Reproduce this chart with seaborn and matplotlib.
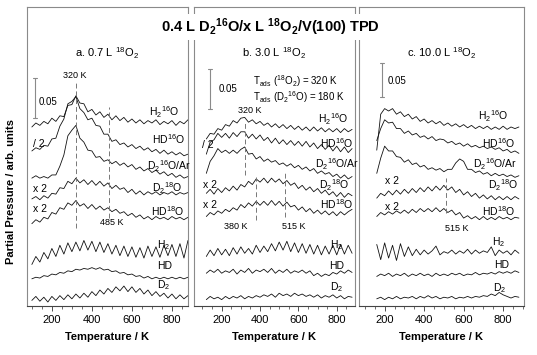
import numpy as np
import seaborn as sns
import matplotlib.pyplot as plt
from matplotlib.ticker import MultipleLocator

sns.set_theme(style="ticks")
plt.rcParams['font.family'] = ['Liberation Sans', 'DejaVu Sans']
plt.rcParams['mathtext.fontset'] = 'custom'
plt.rcParams['mathtext.rm'] = 'Liberation Sans'
plt.rcParams['mathtext.it'] = 'Liberation Sans:italic'
plt.rcParams['mathtext.bf'] = 'Liberation Sans:bold'
plt.rcParams['text.color'] = 'black'
plt.rcParams['axes.labelcolor'] = 'black'
plt.rcParams['xtick.labelcolor'] = 'black'

# temperature grids (K)
temp_a = np.arange(100, 881, 20)
temp_b = np.arange(120, 881, 20)
temp_c = np.arange(160, 881, 20)

# traces, stacked, in 1e-3 arb. units
a_h2o16 = [224,229,226,231,228,235,231,238,237,251, 252,263,254,253,243,246,239,243,236,240,
           233,238,232,236,230,234,229,233,228,232, 229,233,227,231,228,232,226,231,228,233]
a_hd16 = [194,198,196,201,200,209,210,225,234,253, 256,262,247,242,233,235,226,225,215,215,
          206,208,202,204,199,202,197,200,195,198, 193,196,191,195,190,193,189,192,188,190]
a_d2o16 = [160,163,160,162,160,164,164,175,189,213, 220,226,210,205,195,194,186,187,181,183,
           178,181,176,179,174,177,171,174,169,172, 167,170,165,168,163,166,161,164,160,162]
a_d2o18 = [134,137,133,138,135,141,140,148,147,156, 153,160,154,158,152,157,151,156,150,154,
           147,151,146,148,142,146,140,144,139,143, 140,143,139,142,140,143,139,142,140,142]
a_hdo18 = [103,108,105,111,109,117,115,123,121,129, 126,132,125,128,122,127,121,125,120,123,
           118,121,116,118,113,116,111,114,109,112, 108,112,109,111,108,112,109,111,108,111]
a_h2 = [52,62,55,67,59,72,62,76,65,79, 68,80,69,82,70,81,68,80,67,78,
        65,76,63,75,62,74,61,73,60,75, 62,74,61,76,63,77,62,78,60,82]
a_hd = [34,36,35,38,37,40,39,42,41,44, 43,46,45,47,46,48,46,48,45,46,
        43,44,41,42,39,40,37,38,35,37, 34,36,34,36,34,36,34,36,34,36]
a_d2 = [7,12,6,11,5,12,7,13,8,14, 9,15,10,16,11,18,13,20,15,22,
        17,24,19,25,18,24,17,22,15,20, 13,18,12,16,10,15,9,14,9,13]

b_h2o16 = [209,216,215,222,220,227,225,232,229,235, 236,230,233,228,231,226,229,224,228,223,
           227,222,226,221,225,220,224,219,224,219, 223,218,222,218,222,217,222,218,221]
b_hd16 = [190,205,208,216,211,216,210,217,212,218, 218,210,215,209,214,207,211,204,210,203,
          208,202,207,201,206,200,206,199,204,197, 202,196,201,194,200,193,199,192,197]
b_d2o16 = [166,181,188,197,192,195,191,195,191,196, 199,190,191,184,187,181,184,180,182,177,
           179,175,178,173,176,171,174,169,172,166, 169,165,167,162,165,160,164,159,162]
b_d2o18 = [141,146,140,147,142,148,144,150,145,152, 149,156,152,159,155,160,154,160,155,159,
           153,157,151,154,147,151,145,149,143,147, 141,145,139,143,137,142,136,141,138]
b_hdo18 = [112,117,114,119,116,121,118,123,120,127, 123,129,125,131,126,131,126,132,126,131,
           125,130,124,126,120,124,118,122,116,120, 115,119,114,118,113,118,114,118,121]
b_h2 = [62,70,63,72,64,71,63,73,65,74, 66,72,65,76,67,75,68,78,69,80,
        70,81,68,79,67,78,66,77,65,76, 64,75,65,76,64,77,65,76,66]
b_hd = [41,45,42,46,41,44,42,46,40,45, 42,47,41,45,43,46,42,47,41,45,
        42,46,41,44,42,45,41,44,38,41, 37,40,38,42,40,44,41,45,42]
b_d2 = [8,12,9,11,8,12,9,12,10,13, 9,12,10,13,11,14,12,15,11,16,
        13,15,12,16,13,15,12,14,11,14, 10,13,11,14,10,13,9,12,11]

c_h2o16 = [195,240,247,244,247,240,243,237,240,234, 237,231,234,229,232,228,231,226,229,225,
           228,224,227,223,226,222,225,222,225,221, 224,221,225,221,224,222,224]
c_hd16 = [207,222,233,229,230,222,222,216,219,214, 216,211,213,209,212,207,209,208,204,206,
          202,204,200,203,199,201,198,200,197,199, 196,198,194,196,192,194,191]
c_d2o16 = [166,185,200,194,194,187,186,180,183,177, 179,174,176,171,173,170,172,168,171,171,
           179,184,181,171,171,167,169,165,167,163, 166,163,165,162,164,161,163]
c_d2o18 = [135,141,138,144,139,145,140,146,141,147, 142,148,143,149,144,150,145,151,145,149,
           142,146,139,143,137,141,135,139,134,138, 133,137,133,137,133,137,134]
c_hdo18 = [112,117,114,118,115,119,116,120,116,121, 117,122,118,122,118,123,118,122,117,120,
           114,117,110,113,109,112,108,112,108,111, 108,112,109,111,108,111,110]
c_h2 = [77,58,79,60,76,57,78,62,74,63, 71,64,70,65,69,75,64,68,66,70,
        65,69,66,71,65,70,66,69,67,74, 63,70,66,69,64,70,66]
c_hd = [37,40,38,41,37,40,38,41,37,40, 38,41,38,40,37,41,38,40,38,41,
        39,41,38,40,39,42,39,41,40,42, 40,43,41,43,41,44,42]
c_d2 = [9,11,8,11,9,12,9,11,10,12, 9,12,10,13,10,12,9,11,10,12,
        9,11,10,12,10,12,11,13,12,15, 13,17,14,12,10,12,11]

names = ["H$_2$$^{16}$O", "HD$^{16}$O", "D$_2$$^{16}$O/Ar", "D$_2$$^{18}$O",
         "HD$^{18}$O", "H$_2$", "HD", "D$_2$"]

panels = [
    dict(temp=temp_a, xlim=(75, 880), rect=[0.050, 0.138, 0.300, 0.842],
         title="a. 0.7 L $^{18}$O$_2$",
         traces=[a_h2o16, a_hd16, a_d2o16, a_d2o18, a_hdo18, a_h2, a_hd, a_d2],
         lab_pos=[(762, 243), (785, 209), (782, 175), (775, 147), (780, 119),
                  (760, 76), (765, 50), (760, 26)],
         factors=[(135, 203, "/ 2"), (140, 147, "x 2"), (140, 121, "x 2")],
         bar=(115, 235, 285), bar_text=(132, 255),
         dashes=[(320, 97, 280), (485, 110, 249)],
         temps=[(312, 289, "320 K"), (500, 104, "485 K")]),
    dict(temp=temp_b, xlim=(55, 895), rect=[0.361, 0.138, 0.300, 0.842],
         title="b. 3.0 L $^{18}$O$_2$",
         traces=[b_h2o16, b_hd16, b_d2o16, b_d2o18, b_hdo18, b_h2, b_hd, b_d2],
         lab_pos=[(783, 234), (800, 204), (800, 178), (785, 151), (800, 128),
                  (800, 76), (800, 50), (800, 24)],
         factors=[(127, 202, "/ 2"), (138, 152, "x 2"), (138, 127, "x 2")],
         bar=(141, 247, 297), bar_text=(185, 271),
         dashes=[(320, 164, 229), (377, 107, 161), (528, 111, 166)],
         temps=[(346, 244, "320 K"), (273, 99, "380 K"), (575, 100, "515 K")]),
    dict(temp=temp_c, xlim=(70, 905), rect=[0.6685, 0.138, 0.307, 0.842],
         title="c. 10.0 L $^{18}$O$_2$",
         traces=[c_h2o16, c_hd16, c_d2o16, c_d2o18, c_hdo18, c_h2, c_hd, c_d2],
         lab_pos=[(750, 238), (776, 204), (760, 178), (800, 151), (776, 119),
                  (776, 80), (790, 51), (780, 22)],
         factors=[(235, 156, "x 2"), (235, 124, "x 2")],
         bar=(188, 262, 304), bar_text=(215, 281),
         dashes=[(513, 116, 160)],
         temps=[(564, 97, "515 K")]),
]

fig = plt.figure(figsize=(5.37, 3.55), dpi=100)
k = 1e-3
grey = "#8a8a8a"

for p in panels:
    ax = fig.add_axes(p["rect"])
    for vals in p["traces"]:
        sns.lineplot(x=p["temp"], y=np.array(vals) * k, ax=ax, color="#111111",
                     linewidth=0.6, estimator=None)
    for (tx, ty), name in zip(p["lab_pos"], names):
        ax.text(tx, ty * k, name, fontsize=7.5, ha="center", va="center")
    for tx, ty, s in p["factors"]:
        ax.text(tx, ty * k, s, fontsize=7.5, ha="center", va="center")
    bx, b0, b1 = p["bar"]
    ax.plot([bx, bx], [b0 * k, b1 * k], color=grey, lw=0.8)
    ax.plot([bx - 10, bx + 10], [b0 * k, b0 * k], color=grey, lw=0.8)
    ax.plot([bx - 10, bx + 10], [b1 * k, b1 * k], color=grey, lw=0.8)
    ax.text(p["bar_text"][0], p["bar_text"][1] * k, "0.05", fontsize=7,
            ha="left", va="center")
    for tx, d0, d1 in p["dashes"]:
        ax.plot([tx, tx], [d0 * k, d1 * k], color="#777777", lw=0.7,
                ls=(0, (5, 3)))
    for tx, ty, s in p["temps"]:
        ax.text(tx, ty * k, s, fontsize=6.5, ha="center", va="center")
    ax.text(0.5, 0.846, p["title"], transform=ax.transAxes, fontsize=8,
            ha="center", va="center")

    ax.set_xlim(*p["xlim"])
    ax.set_ylim(0, 0.374)
    ax.set_yticks([])
    ax.set_ylabel("")
    ax.xaxis.set_major_locator(MultipleLocator(200))
    ax.xaxis.set_minor_locator(MultipleLocator(50))
    ax.set_xticks([200, 400, 600, 800])
    ax.tick_params(axis="x", which="major", direction="out", length=3.5,
                   width=0.6, labelsize=8, pad=3, color="#333333")
    ax.tick_params(axis="x", which="minor", direction="out", length=2,
                   width=0.5, color="#333333")
    for s in ax.spines.values():
        s.set_color(grey)
        s.set_linewidth(0.8)
    ax.spines["bottom"].set_color("#444444")
    ax.set_xlabel("Temperature / K", fontsize=8, fontweight="bold", labelpad=5)

ax_b = fig.axes[1]
ax_b.text(361, 0.282, "T$_\\mathrm{ads}$ ($^{18}$O$_2$) = 320 K", fontsize=7,
          ha="left", va="center")
ax_b.text(361, 0.262, "T$_\\mathrm{ads}$ (D$_2$$^{16}$O) = 180 K", fontsize=7,
          ha="left", va="center")

fig.text(0.503, 0.924,
         "0.4 L D$_\\mathbf{2}$$^\\mathbf{16}$O/x L $^\\mathbf{18}$O$_\\mathbf{2}$/V(100) TPD",
         fontsize=10.5, fontweight="bold", ha="center", va="center",
         bbox=dict(facecolor="white", edgecolor="none", pad=1.5), zorder=10)
fig.text(0.021, 0.46, "Partial Pressure / arb. units", rotation=90, fontsize=8,
         fontweight="bold", ha="center", va="center")

fig.savefig("out.png", dpi=100)
